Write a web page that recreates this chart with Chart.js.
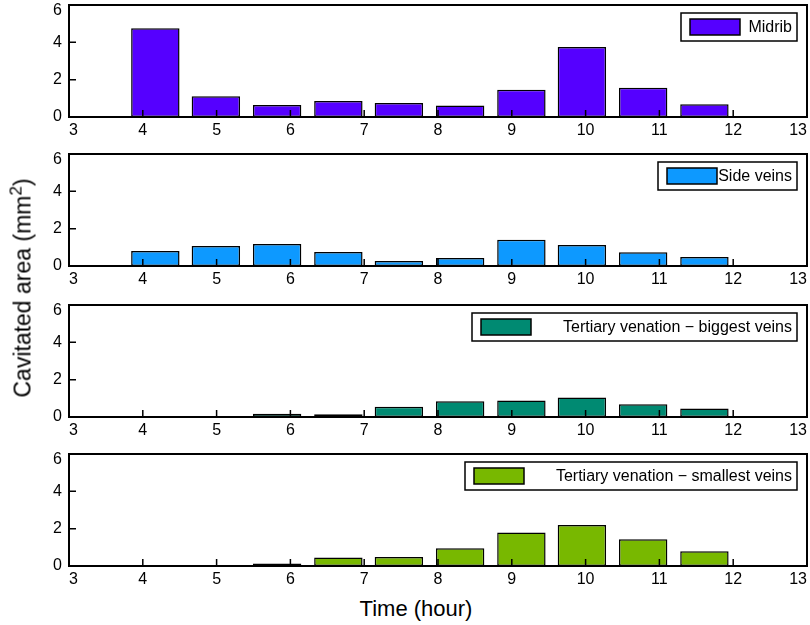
<!DOCTYPE html>
<html>
<head>
<meta charset="utf-8">
<script src="https://cdn.jsdelivr.net/npm/chart.js@4.4.1/dist/chart.umd.min.js"></script>
<style>
  body { margin: 0; background: #fff; width: 810px; height: 625px; overflow: hidden; position: relative;
         font-family: "Liberation Sans", Arial, sans-serif; color: #000; }
  .panel { position: absolute; left: 0; width: 810px; height: 145px; }
  #ytitle { position: absolute; left: 23px; top: 288px; transform: translate(-50%, -50%) rotate(-90deg);
            white-space: nowrap; font-size: 23px; }
  #ytitle sup { font-size: 17px; vertical-align: 9px; line-height: 0; }
  #xtitle { position: absolute; left: 416px; top: 609px; transform: translate(-50%, -50%);
            white-space: nowrap; font-size: 22px; }
</style>
</head>
<body>
<div class="panel" style="top:0px"><canvas id="c1" width="810" height="145"></canvas></div>
<div class="panel" style="top:149px"><canvas id="c2" width="810" height="145"></canvas></div>
<div class="panel" style="top:300px"><canvas id="c3" width="810" height="145"></canvas></div>
<div class="panel" style="top:449px"><canvas id="c4" width="810" height="145"></canvas></div>
<div id="ytitle">Cavitated area (mm<sup>2</sup>)</div>
<div id="xtitle">Time (hour)</div>
<script>
// bar positions (hours) and cavitated areas
const hours = [4.17, 4.99, 5.82, 6.65, 7.47, 8.30, 9.13, 9.95, 10.78, 11.61];
const midrib = [4.75, 1.11, 0.64, 0.86, 0.75, 0.61, 1.46, 3.75, 1.57, 0.68];
const sideVeins = [0.80, 1.07, 1.18, 0.75, 0.27, 0.43, 1.41, 1.12, 0.73, 0.48];
const tertiaryBiggest = [0, 0, 0.18, 0.15, 0.55, 0.84, 0.89, 1.05, 0.68, 0.46];
const tertiarySmallest = [0.04, 0.01, 0.14, 0.46, 0.48, 0.95, 1.80, 2.20, 1.43, 0.79];

const xMin = 3, xMax = 13, xStep = 1;
const yMin = 0, yMax = 6, yStep = 2;

const frame = {
  id: 'frame',
  afterDatasetsDraw(chart, args, opts) {
    const { ctx, chartArea: a, scales: { x, y } } = chart;
    ctx.save();
    ctx.strokeStyle = '#000';
    ctx.lineWidth = 1.5;
    ctx.beginPath();
    x.ticks.forEach(t => {
      const px = x.getPixelForValue(t.value);
      ctx.moveTo(px, a.bottom);
      ctx.lineTo(px, a.bottom - 7);
    });
    y.ticks.forEach(t => {
      const py = y.getPixelForValue(t.value);
      ctx.moveTo(a.left, py);
      ctx.lineTo(a.left + 7, py);
    });
    ctx.stroke();
    ctx.lineWidth = 2;
    ctx.strokeRect(a.left, a.top, a.width, a.height);

    // boxed legend, top right
    const ds = chart.data.datasets[0];
    const right = a.right - 10, top = a.top + 8, h = 28;
    const left = right - opts.width;
    ctx.fillStyle = '#fff';
    ctx.fillRect(left, top, opts.width, h);
    ctx.lineWidth = 1.5;
    ctx.strokeRect(left, top, opts.width, h);
    ctx.fillStyle = ds.backgroundColor;
    ctx.fillRect(left + 9, top + 6, 50, 16);
    ctx.strokeRect(left + 9, top + 6, 50, 16);
    ctx.fillStyle = '#000';
    ctx.font = '16px "Liberation Sans", Arial, sans-serif';
    ctx.textAlign = 'right';
    ctx.textBaseline = 'middle';
    ctx.fillText(ds.label, right - 5, top + h / 2 + 1);
    ctx.restore();
  }
};

function makePanel(id, name, values, color, legendWidth) {
  return new Chart(document.getElementById(id), {
    type: 'bar',
    data: {
      datasets: [{
        label: name,
        data: hours.map((h, i) => ({ x: h, y: values[i] })),
        backgroundColor: color,
        borderColor: '#000',
        borderWidth: 1.5,
        borderSkipped: false,
        barPercentage: 0.8,
        categoryPercentage: 1
      }]
    },
    options: {
      responsive: false,
      animation: false,
      layout: { padding: { top: 5, right: 3, left: 0, bottom: 0 } },
      plugins: {
        legend: { display: false },
        tooltip: { enabled: false },
        frame: { width: legendWidth }
      },
      scales: {
        x: {
          type: 'linear', min: xMin, max: xMax, offset: false,
          grid: { display: false, offset: false, drawTicks: false }, border: { display: false },
          ticks: { stepSize: xStep, align: 'inner', autoSkip: false, maxRotation: 0,
                   color: '#000', padding: 4, font: { size: 16, family: '"Liberation Sans", Arial' } },
          afterFit: s => { s.height = 28; s.paddingLeft = 0; s.paddingRight = 0; }
        },
        y: {
          min: yMin, max: yMax,
          grid: { display: false, drawTicks: false }, border: { display: false },
          ticks: {
            stepSize: yStep, color: '#000', padding: 7,
            font: { size: 16, family: '"Liberation Sans", Arial', lineHeight: 0.65 },
            // keep the top label inside the panel, as in the figure
            callback: v => v === yMax ? ['', String(v)] : String(v)
          },
          afterFit: s => { s.width = 69; s.paddingTop = 0; s.paddingBottom = 0; }
        }
      }
    },
    plugins: [frame]
  });
}

makePanel('c1', 'Midrib', midrib, '#5500ff', 116);
makePanel('c2', 'Side veins', sideVeins, '#0d99ff', 139);
makePanel('c3', 'Tertiary venation \u2212 biggest veins', tertiaryBiggest, '#008a72', 325);
makePanel('c4', 'Tertiary venation \u2212 smallest veins', tertiarySmallest, '#78b800', 332);
</script>
</body>
</html>
